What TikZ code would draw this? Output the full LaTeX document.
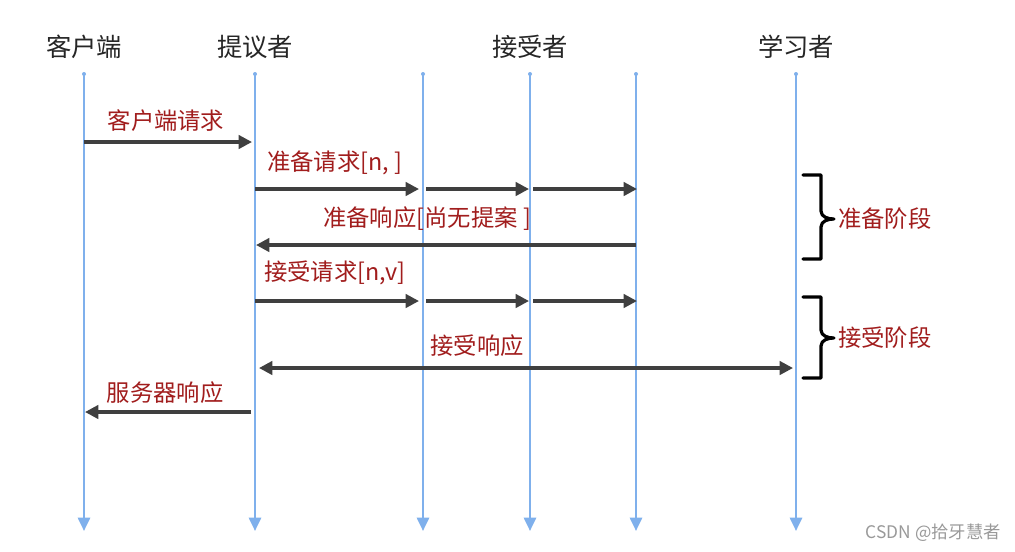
\documentclass[tikz,border=0pt]{standalone}
\usepackage{fontspec}
\setmainfont{Noto Sans CJK SC}
\newfontfamily\cjk{Noto Sans CJK SC}
\usetikzlibrary{arrows.meta}
\definecolor{lifeblue}{HTML}{7FB0EC}
\definecolor{msgred}{HTML}{A11D1D}
\definecolor{arrowgray}{HTML}{3F3F3F}
\tikzset{
  actor/.style={font=\cjk\fontsize{19}{21}\selectfont, text=black!85, inner sep=0pt},
  msglabel/.style={font=\cjk\fontsize{17.5}{20}\selectfont, text=msgred, inner sep=0pt},
  lifeline/.style={draw=lifeblue, line width=2pt, -{Triangle[length=10pt,width=9pt]}},
  msg/.style={draw=arrowgray, line width=2.4pt, -{Triangle[length=10pt,width=10pt]}},
  dmsg/.style={draw=arrowgray, line width=2.4pt, {Triangle[length=10pt,width=10pt]}-{Triangle[length=10pt,width=10pt]}},
  bracestyle/.style={draw=black, line width=2.4pt, line cap=round, line join=round},
}
\begin{document}
\begin{tikzpicture}[x=0.75pt,y=-0.75pt]
\useasboundingbox[fill=white] (0,0) rectangle (1015,551);
% actors
\node[actor] (client) at (84,47) {客户端};
\node[actor] (proposer) at (255,47) {提议者};
\node[actor] (acceptor) at (530,47) {接受者};
\node[actor] (learner) at (796,47) {学习者};
% lifeline tops and bottoms
\foreach \n/\x in {c/84, p/255, a1/423, a2/530, a3/636, l/796} {
  \coordinate (\n top) at (\x,74);
  \coordinate (\n bot) at (\x,531);
  \draw[lifeline] (\n top) -- (\n bot);
  \fill[lifeblue] (\n top) circle (2);
}
% message 1
\coordinate (m1s) at (84,142);
\coordinate (m1e) at (252,142);
\draw[msg] (m1s) -- (m1e);
\node[msglabel] (m1l) at (166,121) {客户端请求};
% message 2 prepare
\coordinate (m2a) at (255,189);
\coordinate (m2b) at (419,189);
\coordinate (m2c) at (426,189);
\coordinate (m2d) at (529,189);
\coordinate (m2e) at (533,189);
\coordinate (m2f) at (637,189);
\draw[msg] (m2a) -- (m2b);
\draw[msg] (m2c) -- (m2d);
\draw[msg] (m2e) -- (m2f);
\node[msglabel, anchor=west] (m2l) at (267,163) {准备请求[n, ]};
% message 3 prepare response
\coordinate (m3s) at (636,245);
\coordinate (m3e) at (256,245);
\draw[msg] (m3s) -- (m3e);
\node[msglabel, anchor=west] (m3l) at (323,219) {准备响应[尚无提案 ]};
% message 4 accept
\coordinate (m4a) at (255,301);
\coordinate (m4b) at (419,301);
\coordinate (m4c) at (426,301);
\coordinate (m4d) at (529,301);
\coordinate (m4e) at (533,301);
\coordinate (m4f) at (637,301);
\draw[msg] (m4a) -- (m4b);
\draw[msg] (m4c) -- (m4d);
\draw[msg] (m4e) -- (m4f);
\node[msglabel, anchor=west] (m4l) at (264,273) {接受请求[n,v]};
% message 5 accept response
\coordinate (m5s) at (259,368);
\coordinate (m5e) at (793,368);
\draw[dmsg] (m5s) -- (m5e);
\node[msglabel] (m5l) at (477,346) {接受响应};
% message 6 server response
\coordinate (m6s) at (251,412);
\coordinate (m6e) at (85,412);
\draw[msg] (m6s) -- (m6e);
\node[msglabel] (m6l) at (165,393) {服务器响应};
% braces
\draw[bracestyle] (803,175) -- (821,175) -- (821,211) to[out=-90,in=180] (834,219) to[out=180,in=90] (821,227) -- (821,259) -- (803,259);
\node[msglabel, anchor=west] (ph1) at (838,219) {准备阶段};
\draw[bracestyle] (803,297) -- (821,297) -- (821,330) to[out=-90,in=180] (834,338) to[out=180,in=90] (821,346) -- (821,378) -- (803,378);
\node[msglabel, anchor=west] (ph2) at (838,338) {接受阶段};
% watermark
\node[font=\cjk\fontsize{13}{15}\selectfont, text=gray!80, anchor=east, inner sep=0pt] (wm) at (1001,533) {CSDN @拾牙慧者};
\end{tikzpicture}
\end{document}
